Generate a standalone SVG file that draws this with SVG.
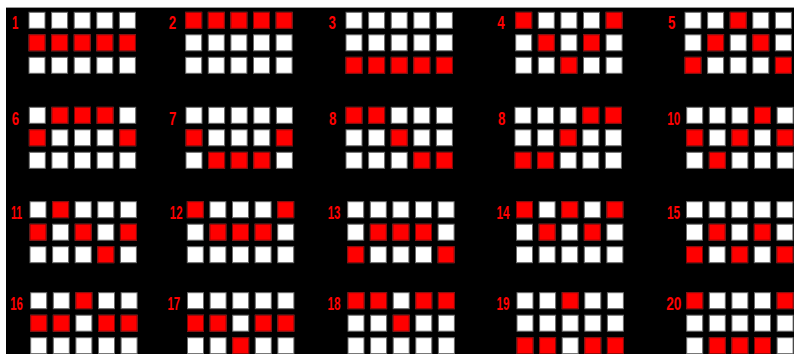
<svg xmlns="http://www.w3.org/2000/svg" xmlns:xlink="http://www.w3.org/1999/xlink" width="794" height="354" viewBox="0 0 794 354">
<style>
.bg{fill:#000}
.w{fill:#fff;stroke:#6a6a6a;stroke-width:1}
.r{fill:#ff0000;stroke:#8a0000;stroke-width:1}
.lbl{font-family:"Liberation Sans",Arial,sans-serif;font-weight:bold;font-size:19px;fill:#ff0000}
</style>
<defs>
<rect id="ws" class="w" width="16" height="16"/>
<rect id="rs" class="r" width="16" height="16"/>
<g id="grid">
<use href="#ws" x="0" y="0"/><use href="#ws" x="22.6" y="0"/><use href="#ws" x="45.2" y="0"/><use href="#ws" x="67.8" y="0"/><use href="#ws" x="90.4" y="0"/>
<use href="#ws" x="0" y="22.5"/><use href="#ws" x="22.6" y="22.5"/><use href="#ws" x="45.2" y="22.5"/><use href="#ws" x="67.8" y="22.5"/><use href="#ws" x="90.4" y="22.5"/>
<use href="#ws" x="0" y="45"/><use href="#ws" x="22.6" y="45"/><use href="#ws" x="45.2" y="45"/><use href="#ws" x="67.8" y="45"/><use href="#ws" x="90.4" y="45"/>
</g>
</defs>
<rect x="0" y="0" width="794" height="354" fill="#fff"/>
<rect class="bg" x="6" y="7" width="788" height="347"/>
<line x1="6" y1="7.5" x2="794" y2="7.5" stroke="#999" stroke-width="1"/>
<g id="connectors"></g>

<g id="line-1" transform="translate(29,12.3)"><text class="lbl" transform="translate(-17,16.5) scale(0.6,1)">1</text><use href="#grid"/>
<use href="#rs" x="0" y="22.5"/><use href="#rs" x="22.6" y="22.5"/><use href="#rs" x="45.2" y="22.5"/><use href="#rs" x="67.8" y="22.5"/><use href="#rs" x="90.4" y="22.5"/></g>
<g id="line-2" transform="translate(185.7,12.3)"><text class="lbl" transform="translate(-17,16.5) scale(0.7,1)">2</text><use href="#grid"/>
<use href="#rs" x="0" y="0"/><use href="#rs" x="22.6" y="0"/><use href="#rs" x="45.2" y="0"/><use href="#rs" x="67.8" y="0"/><use href="#rs" x="90.4" y="0"/></g>
<g id="line-3" transform="translate(346,12.3)"><text class="lbl" transform="translate(-17.5,16.5) scale(0.7,1)">3</text><use href="#grid"/>
<use href="#rs" x="0" y="45"/><use href="#rs" x="22.6" y="45"/><use href="#rs" x="45.2" y="45"/><use href="#rs" x="67.8" y="45"/><use href="#rs" x="90.4" y="45"/></g>
<g id="line-4" transform="translate(515.7,12.3)"><text class="lbl" transform="translate(-18.5,16.5) scale(0.7,1)">4</text><use href="#grid"/>
<use href="#rs" x="0" y="0"/><use href="#rs" x="22.6" y="22.5"/><use href="#rs" x="45.2" y="45"/><use href="#rs" x="67.8" y="22.5"/><use href="#rs" x="90.4" y="0"/></g>
<g id="line-5" transform="translate(685,12.3)"><text class="lbl" transform="translate(-17,16.5) scale(0.7,1)">5</text><use href="#grid"/>
<use href="#rs" x="0" y="45"/><use href="#rs" x="22.6" y="22.5"/><use href="#rs" x="45.2" y="0"/><use href="#rs" x="67.8" y="22.5"/><use href="#rs" x="90.4" y="45"/></g>

<g id="line-6" transform="translate(29.3,107.3)"><text class="lbl" transform="translate(-17.5,18) scale(0.7,1)">6</text><use href="#grid"/>
<use href="#rs" x="0" y="22.5"/><use href="#rs" x="22.6" y="0"/><use href="#rs" x="45.2" y="0"/><use href="#rs" x="67.8" y="0"/><use href="#rs" x="90.4" y="22.5"/></g>
<g id="line-7" transform="translate(186,107.3)"><text class="lbl" transform="translate(-17,18) scale(0.7,1)">7</text><use href="#grid"/>
<use href="#rs" x="0" y="22.5"/><use href="#rs" x="22.6" y="45"/><use href="#rs" x="45.2" y="45"/><use href="#rs" x="67.8" y="45"/><use href="#rs" x="90.4" y="22.5"/></g>
<g id="line-8" transform="translate(346,107.3)"><text class="lbl" transform="translate(-17,18) scale(0.7,1)">8</text><use href="#grid"/>
<use href="#rs" x="0" y="0"/><use href="#rs" x="22.6" y="0"/><use href="#rs" x="45.2" y="22.5"/><use href="#rs" x="67.8" y="45"/><use href="#rs" x="90.4" y="45"/></g>
<g id="line-9" transform="translate(515,107.3)"><text class="lbl" transform="translate(-17,18) scale(0.7,1)">8</text><use href="#grid"/>
<use href="#rs" x="0" y="45"/><use href="#rs" x="22.6" y="45"/><use href="#rs" x="45.2" y="22.5"/><use href="#rs" x="67.8" y="0"/><use href="#rs" x="90.4" y="0"/></g>
<g id="line-10" transform="translate(686.7,107.3)"><text class="lbl" transform="translate(-19.5,18) scale(0.62,1)">10</text><use href="#grid"/>
<use href="#rs" x="0" y="22.5"/><use href="#rs" x="22.6" y="45"/><use href="#rs" x="45.2" y="22.5"/><use href="#rs" x="67.8" y="0"/><use href="#rs" x="90.4" y="22.5"/></g>

<g id="line-11" transform="translate(30,201.7)"><text class="lbl" transform="translate(-19,17.5) scale(0.55,1)">11</text><use href="#grid"/>
<use href="#rs" x="0" y="22.5"/><use href="#rs" x="22.6" y="0"/><use href="#rs" x="45.2" y="22.5"/><use href="#rs" x="67.8" y="45"/><use href="#rs" x="90.4" y="22.5"/></g>
<g id="line-12" transform="translate(187.3,201.7)"><text class="lbl" transform="translate(-17.5,17.5) scale(0.6,1)">12</text><use href="#grid"/>
<use href="#rs" x="0" y="0"/><use href="#rs" x="22.6" y="22.5"/><use href="#rs" x="45.2" y="22.5"/><use href="#rs" x="67.8" y="22.5"/><use href="#rs" x="90.4" y="0"/></g>
<g id="line-13" transform="translate(347.7,201.7)"><text class="lbl" transform="translate(-20,17.5) scale(0.6,1)">13</text><use href="#grid"/>
<use href="#rs" x="0" y="45"/><use href="#rs" x="22.6" y="22.5"/><use href="#rs" x="45.2" y="22.5"/><use href="#rs" x="67.8" y="22.5"/><use href="#rs" x="90.4" y="45"/></g>
<g id="line-14" transform="translate(516.5,201.7)"><text class="lbl" transform="translate(-20,17.5) scale(0.62,1)">14</text><use href="#grid"/>
<use href="#rs" x="0" y="0"/><use href="#rs" x="22.6" y="22.5"/><use href="#rs" x="45.2" y="0"/><use href="#rs" x="67.8" y="22.5"/><use href="#rs" x="90.4" y="0"/></g>
<g id="line-15" transform="translate(686.5,201.7)"><text class="lbl" transform="translate(-19.5,17.5) scale(0.62,1)">15</text><use href="#grid"/>
<use href="#rs" x="0" y="45"/><use href="#rs" x="22.6" y="22.5"/><use href="#rs" x="45.2" y="45"/><use href="#rs" x="67.8" y="22.5"/><use href="#rs" x="90.4" y="45"/></g>

<g id="line-16" transform="translate(30.7,292.7)"><text class="lbl" transform="translate(-20.5,17.5) scale(0.6,1)">16</text><use href="#grid"/>
<use href="#rs" x="0" y="22.5"/><use href="#rs" x="22.6" y="22.5"/><use href="#rs" x="45.2" y="0"/><use href="#rs" x="67.8" y="22.5"/><use href="#rs" x="90.4" y="22.5"/></g>
<g id="line-17" transform="translate(187.5,292.7)"><text class="lbl" transform="translate(-20,17.5) scale(0.6,1)">17</text><use href="#grid"/>
<use href="#rs" x="0" y="22.5"/><use href="#rs" x="22.6" y="22.5"/><use href="#rs" x="45.2" y="45"/><use href="#rs" x="67.8" y="22.5"/><use href="#rs" x="90.4" y="22.5"/></g>
<g id="line-18" transform="translate(348,292.7)"><text class="lbl" transform="translate(-20.5,17.5) scale(0.62,1)">18</text><use href="#grid"/>
<use href="#rs" x="0" y="0"/><use href="#rs" x="22.6" y="0"/><use href="#rs" x="45.2" y="22.5"/><use href="#rs" x="67.8" y="0"/><use href="#rs" x="90.4" y="0"/></g>
<g id="line-19" transform="translate(517,292.7)"><text class="lbl" transform="translate(-20.5,17.5) scale(0.62,1)">19</text><use href="#grid"/>
<use href="#rs" x="0" y="45"/><use href="#rs" x="22.6" y="45"/><use href="#rs" x="45.2" y="0"/><use href="#rs" x="67.8" y="45"/><use href="#rs" x="90.4" y="45"/></g>
<g id="line-20" transform="translate(686.7,292.7)"><text class="lbl" transform="translate(-20.5,17.5) scale(0.72,1)">20</text><use href="#grid"/>
<use href="#rs" x="0" y="0"/><use href="#rs" x="22.6" y="45"/><use href="#rs" x="45.2" y="45"/><use href="#rs" x="67.8" y="45"/><use href="#rs" x="90.4" y="0"/></g>
</svg>
